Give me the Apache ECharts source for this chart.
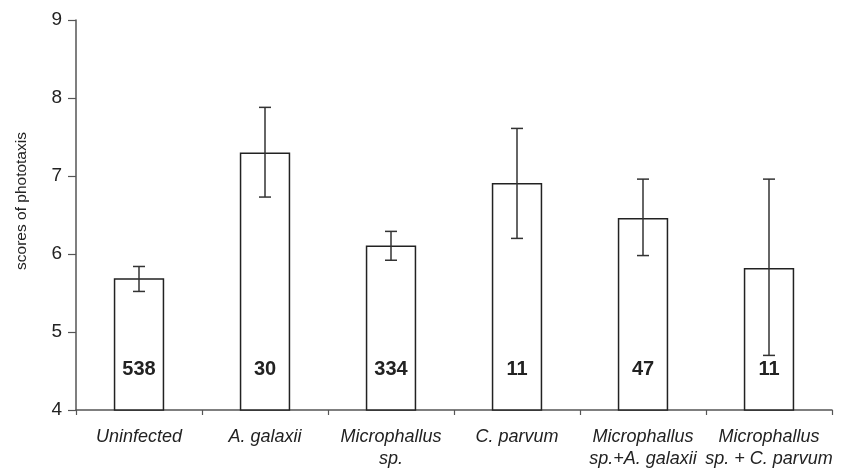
<!DOCTYPE html>
<html><head><meta charset="utf-8">
<script src="https://cdn.jsdelivr.net/npm/echarts@6/dist/echarts.min.js"></script>
<style>html,body{margin:0;padding:0;background:#fff}#c{width:844px;height:470px}</style>
</head><body><div id="c"></div>
<script>
const categories = ["Uninfected", "A. galaxii", "Microphallus\nsp.", "C. parvum", "Microphallus\nsp.+A. galaxii", "Microphallus\nsp. + C. parvum"];
const means = [5.69, 7.30, 6.11, 6.91, 6.46, 5.82];
const errLow = [5.52, 6.73, 5.92, 6.20, 5.98, 4.70];
const errHigh = [5.84, 7.88, 6.29, 7.61, 6.96, 6.96];
const sampleSizes = [538, 30, 334, 11, 47, 11];
const yTicks = [4, 5, 6, 7, 8, 9];

const chart = echarts.init(document.getElementById('c'));
const font = '"Liberation Sans", Arial, sans-serif';
chart.setOption({
  animation: false,
  grid: {left: 76, right: 12, top: 20, bottom: 60},
  xAxis: {
    type: 'category', data: categories,
    axisLine: {lineStyle: {color: '#555', width: 1.5}},
    axisTick: {show: true, length: 5, lineStyle: {color: '#555', width: 1.2}},
    axisLabel: {fontFamily: font, fontStyle: 'italic', fontSize: 18, color: '#222', margin: 16, lineHeight: 22, interval: 0}
  },
  yAxis: {
    type: 'value', min: yTicks[0], max: yTicks[yTicks.length - 1], interval: 1,
    name: 'scores of phototaxis', nameLocation: 'middle', nameGap: 46, nameRotate: 90,
    nameTextStyle: {fontFamily: font, fontSize: 15.5, color: '#222', padding: [0, 0, 0, 28]},
    axisLine: {show: true, lineStyle: {color: '#555', width: 1.5}},
    axisTick: {show: true, length: 8, lineStyle: {color: '#555', width: 1.2}},
    splitLine: {show: false},
    axisLabel: {fontFamily: font, fontSize: 19, color: '#222', margin: 14}
  },
  series: [
    {
      type: 'bar', data: means, barWidth: '40%',
      itemStyle: {color: '#fff', borderColor: '#222', borderWidth: 1.5},
      label: {
        show: true, position: 'insideBottom', distance: 31,
        formatter: p => String(sampleSizes[p.dataIndex]),
        fontFamily: font, fontWeight: 'bold', fontSize: 20, color: '#222'
      }
    },
    {
      type: 'custom', z: 10,
      data: categories.map((c, i) => [i, errLow[i], errHigh[i]]),
      renderItem: function (params, api) {
        const lo = api.coord([api.value(0), api.value(1)]);
        const hi = api.coord([api.value(0), api.value(2)]);
        const hw = 6;
        const style = {stroke: '#333', lineWidth: 1.5};
        return {
          type: 'group',
          children: [
            {type: 'line', shape: {x1: hi[0], y1: hi[1], x2: lo[0], y2: lo[1]}, style},
            {type: 'line', shape: {x1: hi[0] - hw, y1: hi[1], x2: hi[0] + hw, y2: hi[1]}, style},
            {type: 'line', shape: {x1: lo[0] - hw, y1: lo[1], x2: lo[0] + hw, y2: lo[1]}, style}
          ]
        };
      }
    }
  ]
});
</script></body></html>
